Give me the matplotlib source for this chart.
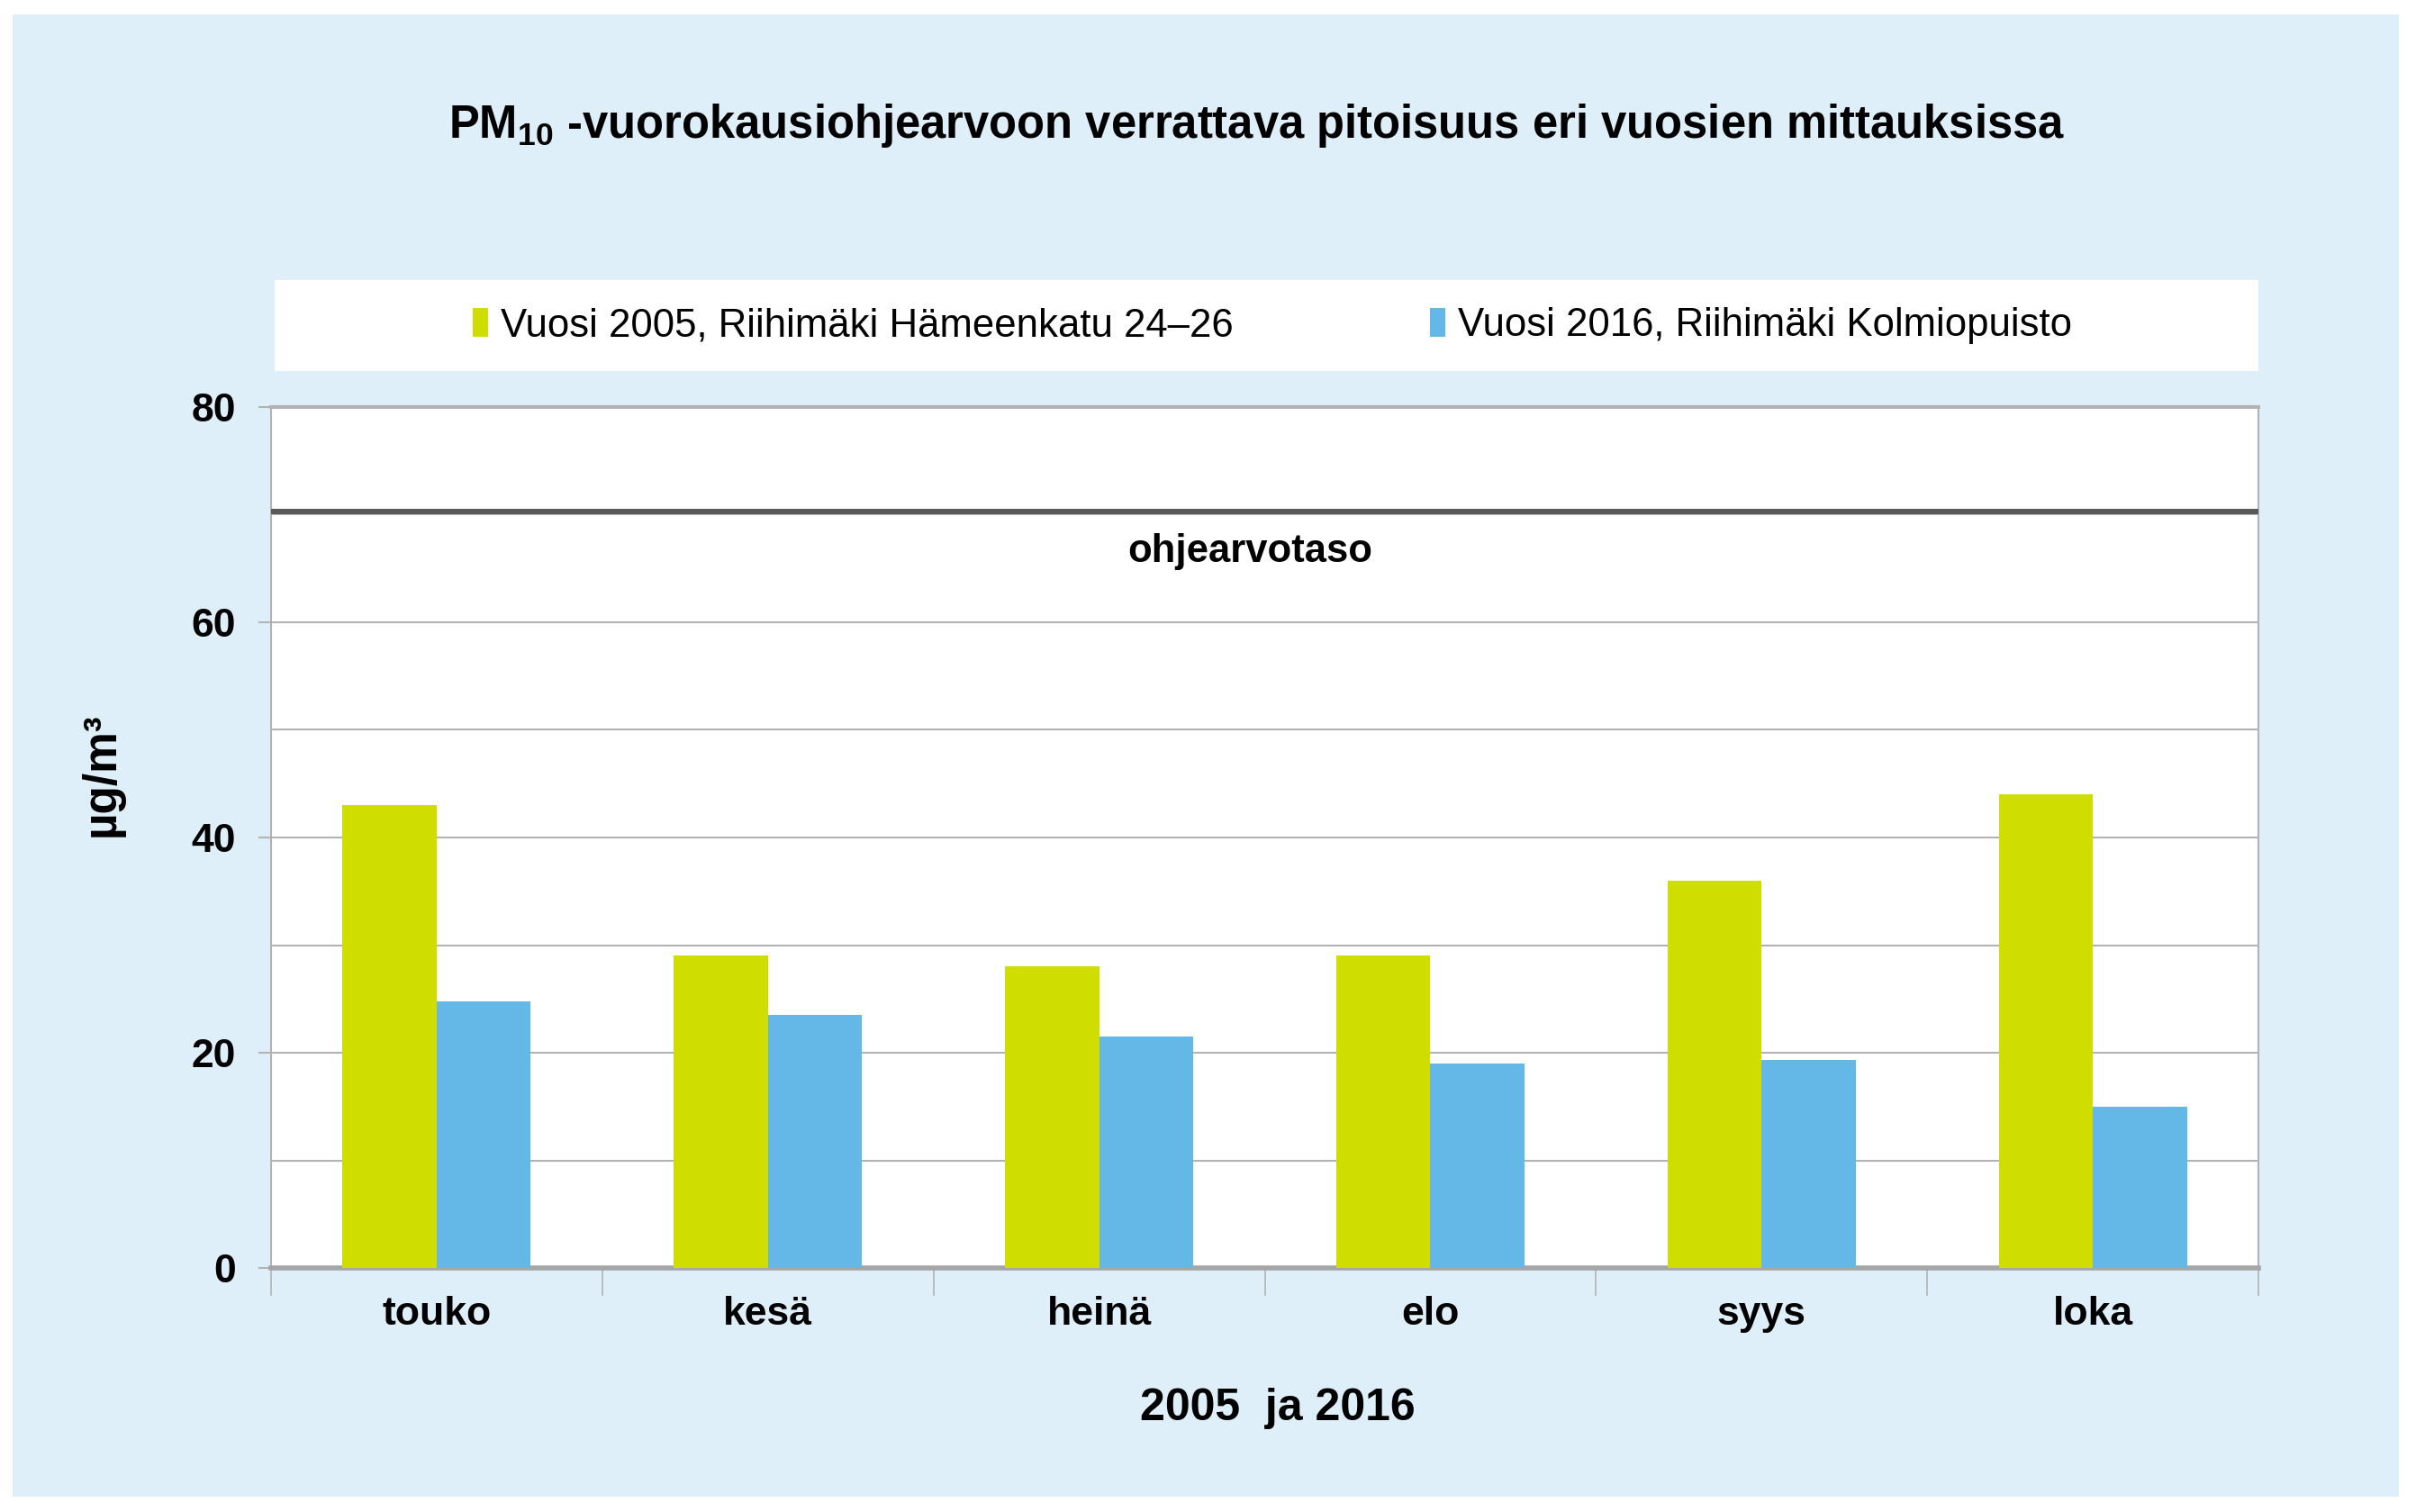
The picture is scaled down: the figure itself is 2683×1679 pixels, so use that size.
import numpy as np
import matplotlib
matplotlib.use('Agg')
import matplotlib.pyplot as plt
from matplotlib.patches import Rectangle, Patch
import matplotlib.transforms as mtransforms

plt.rcParams['font.family'] = ['Liberation Sans', 'DejaVu Sans']
plt.rcParams['mathtext.fontset'] = 'custom'
plt.rcParams['mathtext.rm'] = 'Liberation Sans:bold'
plt.rcParams['mathtext.default'] = 'rm'

months = ['touko', 'kesä', 'heinä', 'elo', 'syys', 'loka']
vuosi_2005 = [43, 29, 28, 29, 36, 44]
vuosi_2016 = [24.8, 23.5, 21.5, 19.0, 19.3, 15.0]
labels = ['Vuosi 2005, Riihimäki Hämeenkatu 24–26', 'Vuosi 2016, Riihimäki Kolmiopuisto']
ohjearvo = 70.3

green = '#CFDD00'
blue = '#63B8E8'
bg = '#DFEFF9'
gridc = '#B3B3B3'

fig = plt.figure(figsize=(26.83, 16.79), dpi=100)
fig.patches.append(Rectangle((14 / 2683, 17 / 1679), 2650 / 2683, 1646 / 1679,
                             transform=fig.transFigure, facecolor=bg, edgecolor='none', zorder=-2))
# white legend strip
fig.patches.append(Rectangle((305 / 2683, 1 - 412 / 1679), 2203 / 2683, 101 / 1679,
                             transform=fig.transFigure, facecolor='white', edgecolor='none', zorder=-1))

ax = fig.add_axes([0.1122, 0.1614, 0.8226, 0.5694])
ax.set_facecolor('white')

x = np.arange(len(months))
w = 0.284
ax.bar(x - w / 2, vuosi_2005, w, color=green, zorder=3)
ax.bar(x + w / 2, vuosi_2016, w, color=blue, zorder=3)

ax.axhline(ohjearvo, color='#595959', lw=4.3, zorder=4)
trans = mtransforms.blended_transform_factory(ax.transAxes, ax.transData)
ax.text(0.4925, 66.6, 'ohjearvotaso', transform=trans, ha='center', va='center',
        fontsize=31.4, fontweight='bold', zorder=5)

ax.set_xlim(-0.5, len(months) - 0.5)
ax.set_ylim(0, 80)
ax.set_yticks([0, 20, 40, 60, 80])
ax.set_yticks(np.arange(10, 80, 20), minor=True)
ax.yaxis.grid(True, which='both', color=gridc, lw=1.5, zorder=1)
ax.set_axisbelow(True)

ax.set_xticks(np.arange(-0.5, len(months)), minor=False)
ax.set_xticklabels([])
ax.set_xticks(x, minor=True)
ax.set_xticklabels(months, minor=True, fontsize=32, fontweight='bold')
ax.tick_params(axis='x', which='major', length=22, width=1.2, color=gridc, direction='out')
ax.tick_params(axis='x', which='minor', length=0, pad=22)
ax.tick_params(axis='y', which='major', length=10, width=1.5, color=gridc, labelsize=32, pad=18)
ax.tick_params(axis='y', which='minor', length=0)
for lab in ax.get_yticklabels():
    lab.set_fontweight('bold')

for s in ['left', 'right', 'top']:
    ax.spines[s].set_color(gridc)
    ax.spines[s].set_linewidth(1.5)
ax.spines['bottom'].set_color('#A6A6A6')
ax.spines['bottom'].set_linewidth(4)
ax.spines['top'].set_linewidth(3)

fig.text(113 / 2683, 0.4878, 'µg/m³', rotation=90, ha='center', va='center',
         fontsize=37, fontweight='bold')
fig.text(0.5287, 0.0685, '2005  ja 2016', ha='center', va='center', fontsize=36, fontweight='bold')
fig.text(0.52, 0.917, r'PM$_{10}$ -vuorokausiohjearvoon verrattava pitoisuus eri vuosien mittauksissa',
         ha='center', va='center', fontsize=36.5, fontweight='bold')

handles = [Patch(facecolor=green), Patch(facecolor=blue)]
fig.legend(handles, labels, loc='center left', bbox_to_anchor=(0.181, 1 - 362 / 1679), ncol=2,
           frameon=False, fontsize=31.5, handlelength=0.4, handleheight=0.75, handletextpad=0.3,
           columnspacing=5.0)

fig.savefig('out.png', dpi=100)
